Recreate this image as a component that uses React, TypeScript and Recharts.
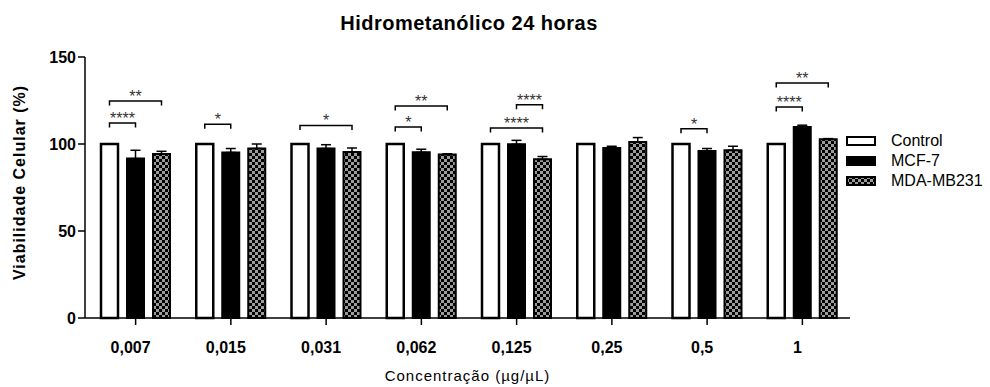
import { BarChart, Bar, XAxis, YAxis, ErrorBar, Legend } from "recharts";

const FONT = '"Liberation Sans", Arial, sans-serif';

const concentrations = ["0,007", "0,015", "0,031", "0,062", "0,125", "0,25", "0,5", "1"];
const controlValues = [100, 100, 100, 100, 100, 100, 100, 100];
const mcf7Values = [91.6, 95.1, 97.4, 95.2, 99.8, 97.7, 96.0, 109.8];
const mcf7Errors = [4.8, 2.3, 2.2, 1.8, 2.3, 1.0, 1.4, 1.0];
const mdaValues = [94.3, 97.4, 95.4, 93.9, 91.2, 101.2, 96.4, 102.7];
const mdaErrors = [1.5, 2.6, 2.3, 0.5, 1.6, 2.5, 2.3, 0.4];
const yTicks = [0, 50, 100, 150];

// significance brackets; bars: 0 = Control, 1 = MCF-7, 2 = MDA-MB231
const brackets = [
  { group: 0, from: 0, to: 1, level: 112, stars: "****" },
  { group: 0, from: 0, to: 2, level: 124.7, stars: "**" },
  { group: 1, from: 0, to: 1, level: 111.3, stars: "*" },
  { group: 2, from: 0, to: 2, level: 110.7, stars: "*" },
  { group: 3, from: 0, to: 1, level: 109.8, stars: "*" },
  { group: 3, from: 0, to: 2, level: 121.8, stars: "**" },
  { group: 4, from: 0, to: 2, level: 109.2, stars: "****" },
  { group: 4, from: 1, to: 2, level: 122.6, stars: "****" },
  { group: 6, from: 0, to: 1, level: 108.8, stars: "*" },
  { group: 7, from: 0, to: 1, level: 121.3, stars: "****" },
  { group: 7, from: 0, to: 2, level: 135, stars: "**" },
];

const series = [
  { name: "Control", fill: "#fff" },
  { name: "MCF-7", fill: "#000" },
  { name: "MDA-MB231", fill: "url(#mdaChecker)" },
];

const data = concentrations.map((conc, i) => ({
  conc,
  control: controlValues[i],
  mcf7: mcf7Values[i],
  mcf7Err: [0, mcf7Errors[i]],
  mda: mdaValues[i],
  mdaErr: [0, mdaErrors[i]],
}));

const BAR_SIZE = 17;
const BAR_GAP = 9;

// control bar + the significance brackets of its group
function ControlShape(props: any) {
  const { x, y, width, height, index, payload } = props;
  const base = y + height;
  const perUnit = height / payload.control;
  const centre = (i: number) => x + width / 2 + i * (width + BAR_GAP);
  return (
    <g>
      <rect x={x} y={y} width={width} height={height} fill="#fff" stroke="#000" strokeWidth={2.5} />
      {brackets
        .filter((b) => b.group === index)
        .map((b, k) => {
          const ly = base - b.level * perUnit;
          const x1 = centre(b.from);
          const x2 = centre(b.to);
          return (
            <g key={k}>
              <path
                d={`M${x1},${ly + 4.5}V${ly}H${x2}V${ly + 4.5}`}
                fill="none"
                stroke="#000"
                strokeWidth={1.5}
              />
              <text
                x={(x1 + x2) / 2}
                y={ly + 1}
                textAnchor="middle"
                fontSize={16}
                fontFamily={FONT}
                fill="#333"
              >
                {b.stars}
              </text>
            </g>
          );
        })}
    </g>
  );
}

function XTick({ x, y, payload }: any) {
  return (
    <text x={x - 5} y={y} dy={12} textAnchor="middle" fontSize={16} fontWeight="bold" fontFamily={FONT} fill="#000">
      {payload.value}
    </text>
  );
}

function YLabel({ viewBox }: any) {
  const cy = viewBox.y + viewBox.height / 2 - 5;
  return (
    <text
      x={25}
      y={cy}
      transform={`rotate(-90, 25, ${cy})`}
      textAnchor="middle"
      fontSize={16}
      fontWeight="bold"
      letterSpacing={1}
      fontFamily={FONT}
      fill="#000"
    >
      Viabilidade Celular (%)
    </text>
  );
}

function XLabel({ viewBox }: any) {
  return (
    <text
      x={viewBox.x + viewBox.width / 2}
      y={381}
      textAnchor="middle"
      fontSize={15}
      letterSpacing={1}
      fontFamily={FONT}
      fill="#000"
    >
      Concentração (µg/µL)
    </text>
  );
}

function LegendBox() {
  return (
    <div style={{ fontFamily: FONT, fontSize: 16, color: "#000" }}>
      {series.map((s) => (
        <div key={s.name} style={{ display: "flex", alignItems: "center", height: 20 }}>
          <svg width={30} height={11} style={{ display: "block" }}>
            <rect x={1} y={1} width={28} height={8} fill={s.fill} stroke="#000" strokeWidth={2} />
          </svg>
          <span style={{ marginLeft: 15, lineHeight: "20px" }}>{s.name}</span>
        </div>
      ))}
    </div>
  );
}

export default function App() {
  return (
    <div style={{ position: "absolute", left: 0, top: 0, width: 990, height: 387, background: "#fff", fontFamily: FONT }}>
      <div
        style={{
          position: "absolute",
          left: 0,
          top: 13,
          width: 938,
          textAlign: "center",
          fontSize: 20,
          lineHeight: "20px",
          fontWeight: "bold",
          letterSpacing: 0.5,
          color: "#000",
        }}
      >
        Hidrometanólico 24 horas
      </div>
      <BarChart
        width={990}
        height={387}
        data={data}
        margin={{ top: 57, right: 140, bottom: 0, left: 0 }}
        barSize={BAR_SIZE}
        barGap={BAR_GAP}
        style={{ fontFamily: FONT }}
      >
        <defs>
          <pattern id="mdaChecker" width={6} height={6} patternUnits="userSpaceOnUse">
            <rect width={6} height={6} fill="#9c9c9c" />
            <rect width={3} height={3} fill="#000" />
            <rect x={3} y={3} width={3} height={3} fill="#000" />
          </pattern>
        </defs>
        <XAxis
          dataKey="conc"
          height={69}
          padding={{ left: 3, right: 0 }}
          tickSize={7}
          tickMargin={16}
          axisLine={{ stroke: "#000", strokeWidth: 1.5 }}
          tickLine={{ stroke: "#000", strokeWidth: 1.5 }}
          tick={<XTick />}
          label={<XLabel />}
        />
        <YAxis
          width={85}
          domain={[0, 150]}
          ticks={yTicks}
          tickSize={7}
          axisLine={{ stroke: "#000", strokeWidth: 1.5 }}
          tickLine={{ stroke: "#000", strokeWidth: 1.5 }}
          tick={{ fill: "#000", fontSize: 16, fontWeight: "bold", fontFamily: FONT }}
          label={<YLabel />}
        />
        <Legend
          layout="vertical"
          align="center"
          verticalAlign="middle"
          content={<LegendBox />}
          wrapperStyle={{ left: 846, top: 131, width: 144 }}
        />
        <Bar dataKey="control" name="Control" fill="#fff" shape={<ControlShape />} isAnimationActive={false} />
        <Bar dataKey="mcf7" name="MCF-7" fill="#000" stroke="#000" strokeWidth={2} isAnimationActive={false}>
          <ErrorBar dataKey="mcf7Err" width={5} stroke="#000" strokeWidth={1.5} isAnimationActive={false} />
        </Bar>
        <Bar dataKey="mda" name="MDA-MB231" fill="url(#mdaChecker)" stroke="#000" strokeWidth={2} isAnimationActive={false}>
          <ErrorBar dataKey="mdaErr" width={5} stroke="#000" strokeWidth={1.5} isAnimationActive={false} />
        </Bar>
      </BarChart>
    </div>
  );
}
